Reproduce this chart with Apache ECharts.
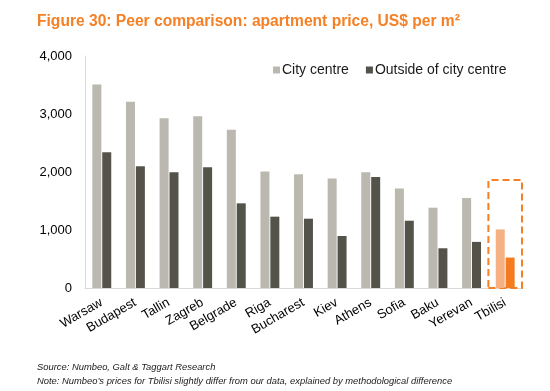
<!DOCTYPE html>
<html><head><meta charset="utf-8">
<script src="https://cdn.jsdelivr.net/npm/echarts@6/dist/echarts.min.js"></script>
<style>html,body{margin:0;padding:0;background:#fff}#c{width:550px;height:391px}</style>
</head><body><div id="c"></div>
<script>
const categories = ['Warsaw','Budapest','Tallin','Zagreb','Belgrade','Riga','Bucharest','Kiev','Athens','Sofia','Baku','Yerevan','Tbilisi'];
const cityCentre = [3510, 3210, 2925, 2960, 2730, 2010, 1960, 1890, 1995, 1715, 1385, 1550, 1010];
const outsideCentre = [2340, 2100, 1995, 2080, 1460, 1230, 1195, 897, 1915, 1160, 685, 795, 525];
const yTicks = [0, 1000, 2000, 3000, 4000];
const highlightCategory = 'Tbilisi';
const highlightTop = 1860;

const lightCol = '#BAB8AF', darkCol = '#54534A', lightHi = '#F5B183', darkHi = '#F47B20';
function mk(vals, hi) {
  return vals.map((v, i) => categories[i] === highlightCategory ? {value: v, itemStyle: {color: hi}} : v);
}
const chart = echarts.init(document.getElementById('c'), null, {renderer: 'canvas'});
chart.setOption({
  animation: false,
  textStyle: {fontFamily: 'Liberation Sans, Arial, sans-serif'},
  title: [{
    text: 'Figure 30: Peer comparison: apartment price, US$ per m²',
    left: 32, top: 9,
    textStyle: {color: '#F58025', fontSize: 15.6, fontWeight: 'bold', fontFamily: 'Liberation Sans, Arial'}
  }, {
    text: 'Source: Numbeo, Galt & Taggart Research\nNote: Numbeo\u2019s prices for Tbilisi slightly differ from our data, explained by methodological difference',
    left: 32, top: 356,
    textStyle: {color: '#1a1a1a', fontSize: 9.4, fontStyle: 'italic', fontWeight: 'normal', lineHeight: 13.5, fontFamily: 'Liberation Sans, Arial'}
  }],
  legend: {
    top: 58, left: 268,
    itemWidth: 7, itemHeight: 7, itemGap: 17,
    icon: 'rect',
    textStyle: {fontSize: 14, color: '#1a1a1a', padding: [0, 0, 0, -3]},
    data: ['City centre', 'Outside of city centre']
  },
  grid: {left: 85, right: 28, top: 56, bottom: 103, containLabel: false},
  xAxis: {
    type: 'category', data: categories,
    axisLine: {lineStyle: {color: '#D9D9D9', width: 1}},
    axisTick: {show: false},
    axisLabel: {rotate: 30, interval: 0, fontSize: 13, color: '#000', margin: 6, align: 'right', verticalAlign: 'top', padding: [0, 4, 0, 0]}
  },
  yAxis: {
    type: 'value', min: 0, max: 4000, interval: 1000,
    axisLine: {show: true, lineStyle: {color: '#D9D9D9', width: 1}},
    axisTick: {show: false},
    splitLine: {show: false},
    axisLabel: {fontSize: 13, color: '#000', margin: 13,
      formatter: v => yTicks.includes(v) ? v.toLocaleString('en-US') : ''}
  },
  series: [{
    name: 'City centre', type: 'bar', data: mk(cityCentre, lightHi),
    itemStyle: {color: lightCol}, barWidth: 9, barGap: '10%',
    markArea: {
      silent: true,
      itemStyle: {color: 'rgba(0,0,0,0)', borderColor: '#F58025', borderWidth: 2, borderType: [7, 4]},
      data: [[{xAxis: highlightCategory, yAxis: 0}, {xAxis: highlightCategory, yAxis: highlightTop}]]
    }
  }, {
    name: 'Outside of city centre', type: 'bar', data: mk(outsideCentre, darkHi),
    itemStyle: {color: darkCol}, barWidth: 9, barGap: '10%'
  }]
});
</script></body></html>
